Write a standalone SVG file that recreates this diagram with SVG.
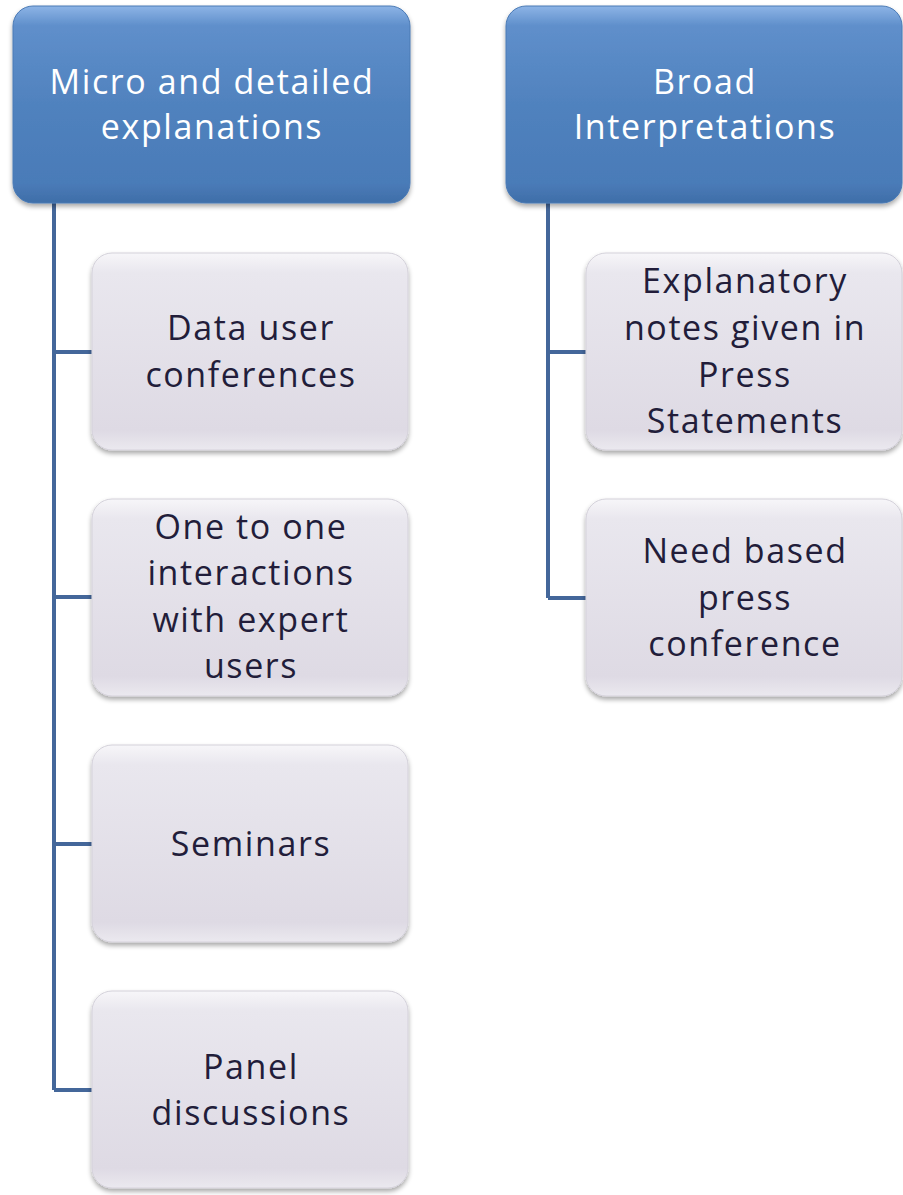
<svg xmlns="http://www.w3.org/2000/svg" width="903" height="1195" viewBox="0 0 903 1195">
<defs>
<linearGradient id="gHead" x1="0" y1="0" x2="0" y2="1">
<stop offset="0" stop-color="#8db4e6"/>
<stop offset="0.1" stop-color="#5f8fcb"/>
<stop offset="0.5" stop-color="#5082be"/>
<stop offset="0.9" stop-color="#4a7bb8"/>
<stop offset="1" stop-color="#3f6ea8"/>
</linearGradient>
<linearGradient id="gChild" x1="0" y1="0" x2="0" y2="1">
<stop offset="0" stop-color="#f7f6f9"/>
<stop offset="0.1" stop-color="#e9e7ee"/>
<stop offset="0.9" stop-color="#dedae4"/>
<stop offset="1" stop-color="#ebe9ef"/>
</linearGradient>
<filter id="sh" x="-10%" y="-10%" width="120%" height="125%">
<feGaussianBlur in="SourceAlpha" stdDeviation="2.5"/>
<feOffset dy="3" result="b"/>
<feComponentTransfer><feFuncA type="linear" slope="0.35"/></feComponentTransfer>
<feMerge><feMergeNode/><feMergeNode in="SourceGraphic"/></feMerge>
</filter>
</defs>
<style>
.head{fill:url(#gHead);stroke:#4a7ab5;stroke-width:1;filter:url(#sh)}
.child{fill:url(#gChild);stroke:#d4d1da;stroke-width:1;filter:url(#sh)}
.ht{font-family:"Open Sans","Liberation Sans",sans-serif;font-size:34px;letter-spacing:1.6px;fill:#ffffff;text-anchor:middle}
.ct{font-family:"Open Sans","Liberation Sans",sans-serif;font-size:34px;letter-spacing:1.6px;fill:#221d3a;text-anchor:middle}
.con{fill:none;stroke:#44679a;stroke-width:4}
</style>
<g id="connectors">
<path class="con" d="M54 203 V1090 M54 352 H92 M54 597 H92 M54 844 H92 M54 1090 H92"/>
<path class="con" d="M548 203 V598 M548 352 H586 M548 598 H586"/>
</g>
<g id="head-left">
<rect class="head" x="13" y="6" width="397" height="197" rx="20"/>
<text class="ht" x="212" y="94">Micro and detailed</text>
<text class="ht" x="212" y="139">explanations</text>
</g>
<g id="head-right">
<rect class="head" x="506" y="6" width="396" height="197" rx="20"/>
<text class="ht" x="705" y="94">Broad</text>
<text class="ht" x="705" y="139">Interpretations</text>
</g>
<g id="data-user">
<rect class="child" x="92" y="253" width="316" height="197" rx="20"/>
<text class="ct" x="251" y="340">Data user</text>
<text class="ct" x="251" y="387">conferences</text>
</g>
<g id="one-to-one">
<rect class="child" x="92" y="499" width="316" height="197" rx="20"/>
<text class="ct" x="251" y="539">One to one</text>
<text class="ct" x="251" y="585">interactions</text>
<text class="ct" x="251" y="632">with expert</text>
<text class="ct" x="251" y="678">users</text>
</g>
<g id="seminars">
<rect class="child" x="92" y="745" width="316" height="197" rx="20"/>
<text class="ct" x="251" y="856">Seminars</text>
</g>
<g id="panel">
<rect class="child" x="92" y="991" width="316" height="197" rx="20"/>
<text class="ct" x="251" y="1079">Panel</text>
<text class="ct" x="251" y="1125">discussions</text>
</g>
<g id="explanatory">
<rect class="child" x="586" y="253" width="316" height="197" rx="20"/>
<text class="ct" x="745" y="293">Explanatory</text>
<text class="ct" x="745" y="340">notes given in</text>
<text class="ct" x="745" y="387">Press</text>
<text class="ct" x="745" y="433">Statements</text>
</g>
<g id="need-based">
<rect class="child" x="586" y="499" width="316" height="197" rx="20"/>
<text class="ct" x="745" y="563">Need based</text>
<text class="ct" x="745" y="610">press</text>
<text class="ct" x="745" y="656">conference</text>
</g>
</svg>
